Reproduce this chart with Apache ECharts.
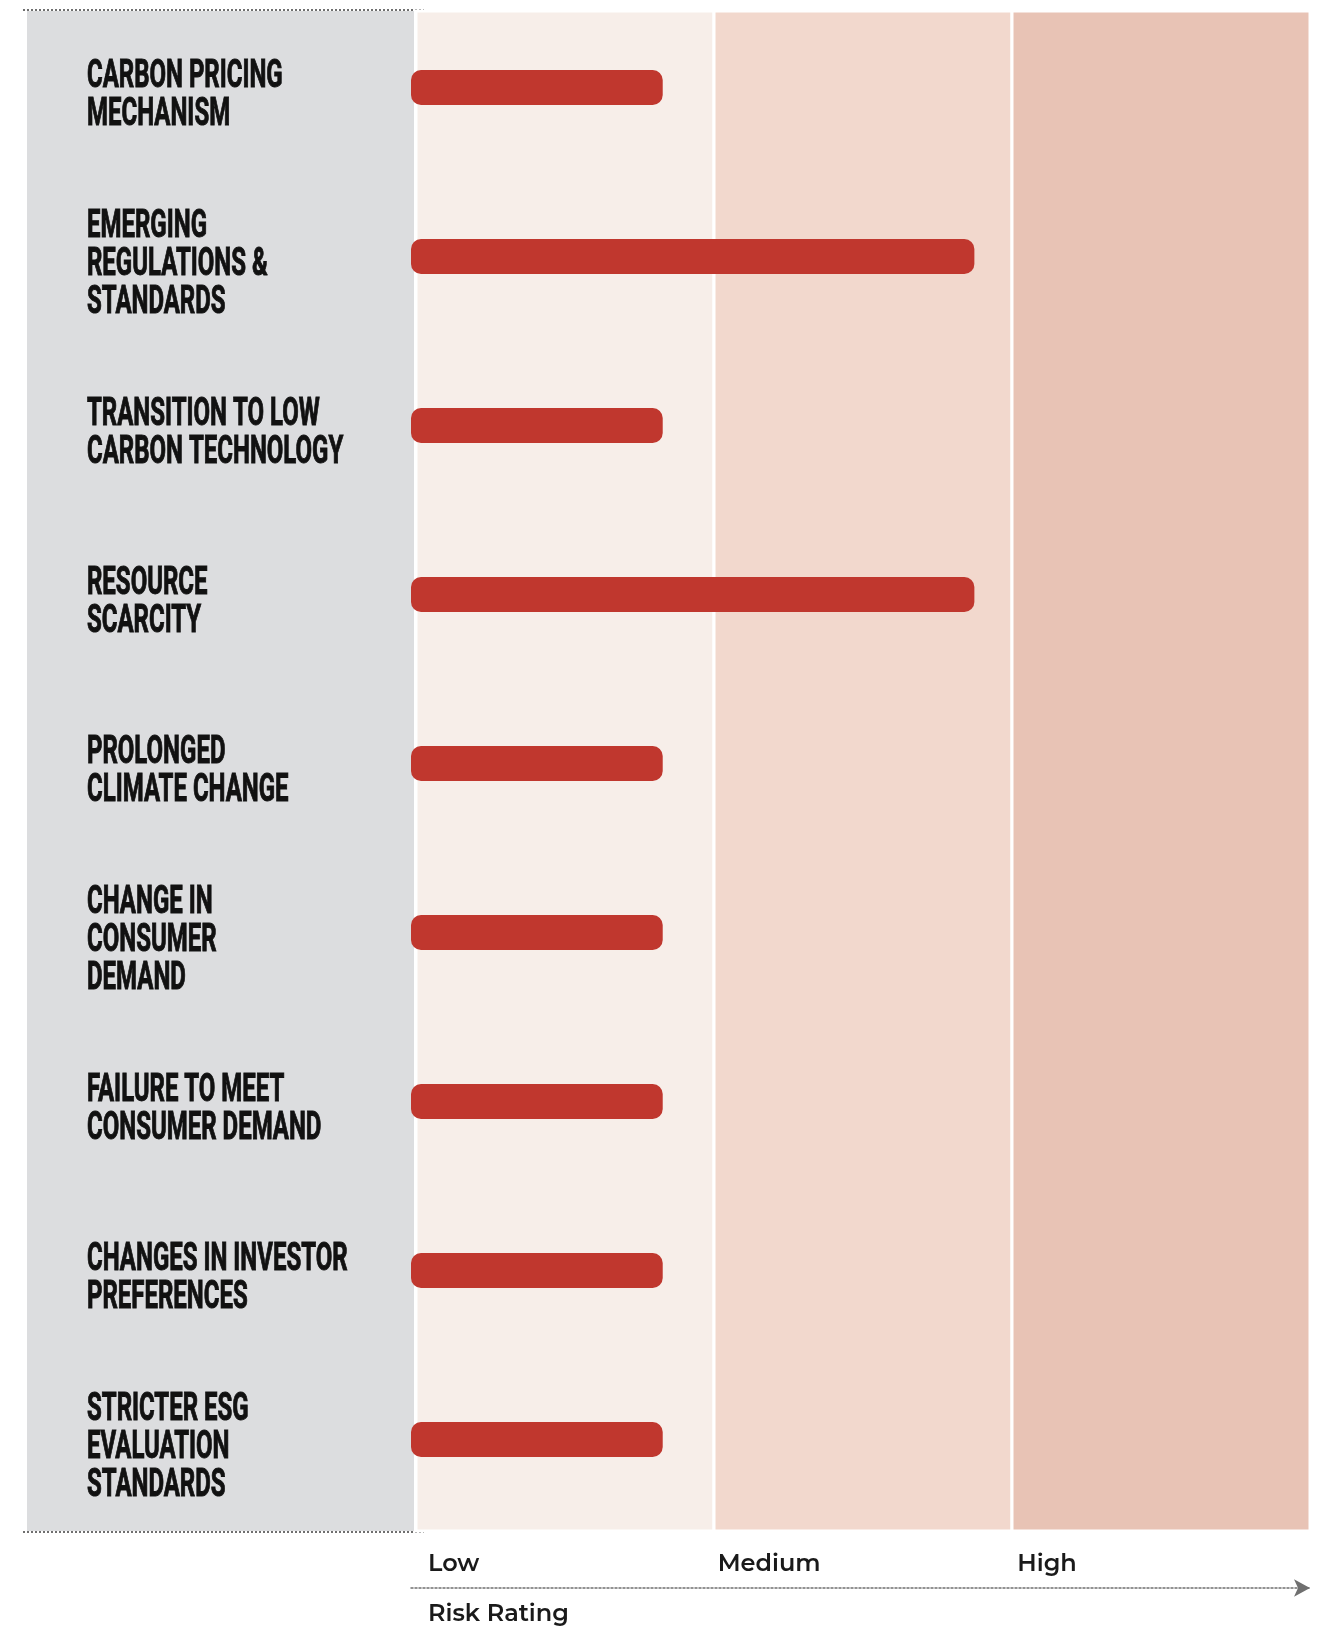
<!DOCTYPE html>
<html>
<head>
<meta charset="utf-8">
<script src="https://cdn.jsdelivr.net/npm/echarts@6/dist/echarts.min.js"></script>
<style>
  html, body { margin: 0; padding: 0; background: #fff; }
  #chart { width: 1326px; height: 1629px; }
</style>
</head>
<body>
<div id="chart"></div>
<script>
// risk factors, top to bottom
const categories = [
  'CARBON PRICING\nMECHANISM',
  'EMERGING\nREGULATIONS &\nSTANDARDS',
  'TRANSITION TO LOW\nCARBON TECHNOLOGY',
  'RESOURCE\nSCARCITY',
  'PROLONGED\nCLIMATE CHANGE',
  'CHANGE IN\nCONSUMER\nDEMAND',
  'FAILURE TO MEET\nCONSUMER DEMAND',
  'CHANGES IN INVESTOR\nPREFERENCES',
  'STRICTER ESG\nEVALUATION\nSTANDARDS'
]
// bar length on a 0..3 scale (0-1 low, 1-2 medium, 2-3 high)
const riskValues = [0.84, 1.88, 0.84, 1.88, 0.84, 0.84, 0.84, 0.84, 0.84]
const riskLevels = ['Low', 'Medium', 'High']
const levelStarts = [0, 1, 2]
const levelEnds = [1, 2, 3]

const bandColors = ['#f7eee9', '#f2d8cd', '#e8c3b5']
const axisFont = 'Montserrat, Inter, "Open Sans", sans-serif'

const chart = echarts.init(document.getElementById('chart'), null, { renderer: 'canvas' })

const staticGraphics = [
  {
    type: 'rect',
    z: -10,
    shape: { x: 27, y: 11, width: 387, height: 1520 },
    style: { fill: '#dcdddf' }
  },
  {
    type: 'line',
    shape: { x1: 23, y1: 10, x2: 424, y2: 10 },
    style: { stroke: '#6f6f6f', lineWidth: 2, lineDash: [2, 2] }
  },
  {
    type: 'line',
    shape: { x1: 23, y1: 1532, x2: 424, y2: 1532 },
    style: { stroke: '#6f6f6f', lineWidth: 2, lineDash: [2, 2] }
  },
  {
    type: 'text',
    left: 428,
    top: 1602,
    style: {
      text: 'Risk Rating',
      fill: '#1a1a1a',
      font: '600 24px ' + axisFont
    }
  }
]

chart.setOption({
  animation: false,
  grid: [
    { left: 411, right: 16, top: 3, bottom: 105 },
    // background bands
    { left: 416, right: 16, top: 11, bottom: 98 }
  ],
  xAxis: [{
    type: 'value',
    gridIndex: 0,
    min: 0,
    max: 3,
    interval: 1,
    offset: 64,
    splitLine: { show: false },
    axisTick: { show: false },
    axisLine: {
      show: true,
      symbol: ['none', 'arrow'],
      symbolSize: [13, 16],
      lineStyle: { color: '#6f6f6f', width: 1.5, type: [2, 2] }
    },
    axisLabel: {
      inside: true,
      margin: 12,
      align: 'left',
      padding: [0, 0, 0, 7],
      color: '#1a1a1a',
      fontFamily: axisFont,
      fontSize: 24,
      fontWeight: 600,
      formatter: function (v) {
        if (v === 0) return '{first|' + riskLevels[v] + '}'
        return riskLevels[v] || ''
      },
      rich: {
        first: {
          padding: [0, 0, 0, 10],
          fontFamily: axisFont,
          fontSize: 24,
          fontWeight: 600,
          color: '#1a1a1a'
        }
      }
    }
  }, {
    type: 'value',
    gridIndex: 1,
    min: 0,
    max: 3,
    show: false
  }],
  yAxis: [{
    type: 'category',
    gridIndex: 0,
    inverse: true,
    data: categories,
    axisLine: { show: false },
    axisTick: { show: false },
    axisLabel: { show: false }
  }, {
    type: 'value',
    gridIndex: 1,
    min: 0,
    max: 1,
    show: false
  }],
  graphic: staticGraphics,
  series: [{
    type: 'line',
    xAxisIndex: 1,
    yAxisIndex: 1,
    z: 1,
    silent: true,
    data: [],
    markArea: {
      silent: true,
      itemStyle: { borderColor: '#fff', borderWidth: 3 },
      data: levelStarts.map((s, i) => [
        { xAxis: s, itemStyle: { color: bandColors[i] } },
        { xAxis: levelEnds[i] }
      ])
    }
  }, {
    type: 'bar',
    xAxisIndex: 0,
    yAxisIndex: 0,
    z: 2,
    data: riskValues,
    barWidth: 35,
    itemStyle: {
      color: '#c0372e',
      borderRadius: 10
    }
  }]
})

// category labels: condensed caps, placed on the category axis positions
const labelGraphics = categories.map(function (c, i) {
  const y = chart.convertToPixel({ yAxisIndex: 0 }, i)
  return {
    type: 'text',
    z: 10,
    x: 87,
    y: y + 9,
    scaleX: 0.615,
    style: {
      text: c,
      fill: '#111',
      stroke: '#111',
      lineWidth: 1,
      fontFamily: 'Roboto, "DejaVu Sans", sans-serif',
      fontWeight: 'bold',
      fontSize: 39,
      lineHeight: 38,
      align: 'left',
      verticalAlign: 'middle'
    }
  }
})

chart.setOption({ graphic: staticGraphics.concat(labelGraphics) })
</script>
</body>
</html>
